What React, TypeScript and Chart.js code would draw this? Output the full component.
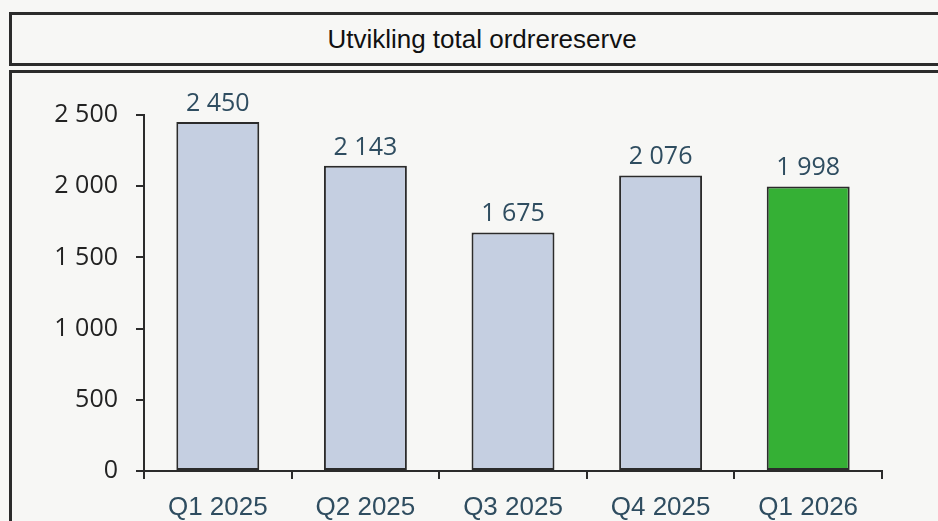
import React, { useEffect, useRef } from "react";
import { Chart, registerables } from "chart.js";

Chart.register(...registerables);

const title = "Utvikling total ordrereserve";
const categories = ["Q1 2025", "Q2 2025", "Q3 2025", "Q4 2025", "Q1 2026"];
const values = [2450, 2143, 1675, 2076, 1998];
const barColors = ["#c5cfe1", "#c5cfe1", "#c5cfe1", "#c5cfe1", "#35b035"];
const yTicks = [0, 500, 1000, 1500, 2000, 2500];

const fmt = (v: number) => {
  const s = Math.round(v).toString();
  return s.replace(/\B(?=(\d{3})+(?!\d))/g, " ");
};

const BG = "#f7f7f5";
const LINE = "#2b2b2b";
const LABEL_BLUE = "#2f4d60";
const NUM_FONT = "'Open Sans', 'Noto Sans', sans-serif";

const valueLabels = {
  id: "valueLabels",
  afterDatasetsDraw(chart: any) {
    const ctx = chart.ctx;
    const meta = chart.getDatasetMeta(0);
    ctx.save();
    ctx.font = `25px ${NUM_FONT}`;
    ctx.fillStyle = LABEL_BLUE;
    ctx.textAlign = "center";
    ctx.textBaseline = "alphabetic";
    meta.data.forEach((el: any, i: number) => {
      ctx.fillText(fmt(values[i]), el.x, el.y - 11);
    });
    ctx.restore();
  },
};

export default function App() {
  const ref = useRef<HTMLCanvasElement | null>(null);

  useEffect(() => {
    document.body.style.margin = "0";
    document.body.style.background = BG;
    const chart = new Chart(ref.current as HTMLCanvasElement, {
      type: "bar",
      data: {
        labels: categories,
        datasets: [
          {
            data: values,
            backgroundColor: barColors,
            borderColor: LINE,
            borderWidth: 2,
            borderSkipped: false,
            barPercentage: 0.562,
            categoryPercentage: 1,
          },
        ],
      },
      options: {
        animation: false,
        responsive: false,
        maintainAspectRatio: false,
        devicePixelRatio: 1,
        layout: { padding: { left: 0, right: 56, top: 115, bottom: 0 } },
        plugins: {
          legend: { display: false },
          tooltip: { enabled: false },
          title: { display: false },
        },
        scales: {
          x: {
            offset: true,
            grid: {
              display: true,
              drawOnChartArea: false,
              drawTicks: true,
              tickLength: 8,
              color: LINE,
              lineWidth: 2,
              offset: true,
            },
            border: { display: true, color: LINE, width: 2 },
            ticks: {
              color: LABEL_BLUE,
              font: { family: "Arial, 'Liberation Sans', sans-serif", size: 26 },
              padding: 13,
              maxRotation: 0,
              autoSkip: false,
            },
            afterFit(scale: any) {
              scale.height = 50;
            },
          },
          y: {
            min: 0,
            max: 2500,
            afterBuildTicks(scale: any) {
              scale.ticks = yTicks.map((v) => ({ value: v }));
            },
            grid: {
              display: true,
              drawOnChartArea: false,
              drawTicks: true,
              tickLength: 8,
              color: LINE,
              lineWidth: 2,
            },
            border: { display: true, color: LINE, width: 2 },
            ticks: {
              color: "#222222",
              font: { family: NUM_FONT, size: 25 },
              padding: 18,
              callback: (v: any) => fmt(Number(v)),
            },
            afterFit(scale: any) {
              scale.width = 144;
            },
          },
        },
      },
      plugins: [valueLabels],
    });
    return () => chart.destroy();
  }, []);

  return (
    <div
      style={{
        position: "fixed",
        left: 0,
        top: 0,
        width: 938,
        height: 521,
        background: BG,
        overflow: "hidden",
      }}
    >
      <div
        style={{
          position: "absolute",
          left: 9,
          top: 12,
          width: 960,
          height: 48,
          border: `3px solid ${LINE}`,
          display: "flex",
          alignItems: "center",
          boxSizing: "content-box",
        }}
      >
        <div
          style={{
            width: 940,
            textAlign: "center",
            fontFamily: "Arial, 'Liberation Sans', sans-serif",
            fontSize: 26,
            color: "#111",
          }}
        >
          {title}
        </div>
      </div>
      <div
        style={{
          position: "absolute",
          left: 9,
          top: 70,
          width: 960,
          height: 500,
          border: `3px solid ${LINE}`,
        }}
      />
      <canvas
        ref={ref}
        width={938}
        height={521}
        style={{ position: "absolute", left: 0, top: 0, width: 938, height: 521 }}
      />
    </div>
  );
}
